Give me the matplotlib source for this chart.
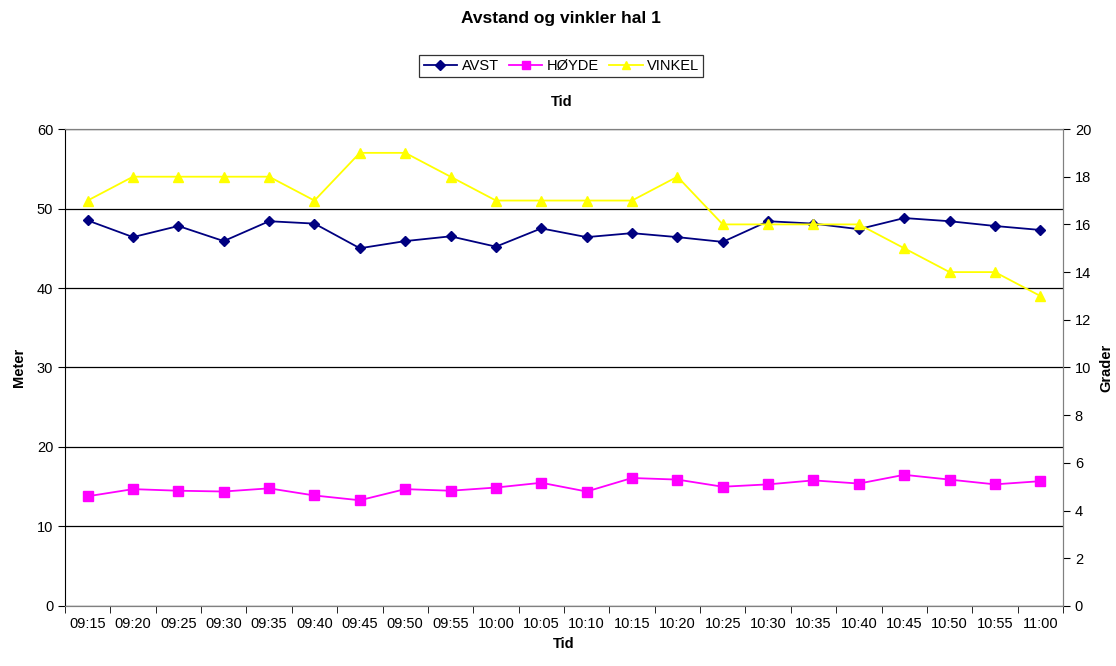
import numpy as np
import matplotlib
matplotlib.use("Agg")
import matplotlib.pyplot as plt

plt.rcParams['font.family'] = ['Liberation Sans', 'DejaVu Sans']

times = ['09:15', '09:20', '09:25', '09:30', '09:35', '09:40', '09:45', '09:50',
         '09:55', '10:00', '10:05', '10:10', '10:15', '10:20', '10:25', '10:30',
         '10:35', '10:40', '10:45', '10:50', '10:55', '11:00']
avst = [48.5, 46.4, 47.8, 45.9, 48.4, 48.1, 45.0, 45.9, 46.5, 45.2, 47.5,
        46.4, 46.9, 46.4, 45.8, 48.4, 48.1, 47.4, 48.8, 48.4, 47.8, 47.3]
hoyde = [13.8, 14.7, 14.5, 14.4, 14.8, 13.9, 13.3, 14.7, 14.5, 14.9, 15.5,
         14.4, 16.1, 15.9, 15.0, 15.3, 15.8, 15.4, 16.5, 15.9, 15.3, 15.7]
vinkel = [17, 18, 18, 18, 18, 17, 19, 19, 18, 17, 17, 17, 17, 18, 16, 16,
          16, 16, 15, 14, 14, 13]

fig = plt.figure(figsize=(11.16, 6.66), dpi=100)
ax = fig.add_axes([0.0582, 0.0901, 0.8943, 0.7162])
ax2 = ax.twinx()

x = np.arange(len(times))
l1, = ax.plot(x, avst, color='#000080', marker='D', markersize=5.5, lw=1.3, label='AVST')
l2, = ax.plot(x, hoyde, color='#FF00FF', marker='s', markersize=6.5, lw=1.3, label='HØYDE')
l3, = ax2.plot(x, vinkel, color='#FFFF00', marker='^', markersize=7, lw=1.3, label='VINKEL')

ax.set_xlim(-0.5, len(times) - 0.5)
ax.set_ylim(0, 60)
ax2.set_ylim(0, 20)
ax.set_yticks(np.arange(0, 61, 10))
ax2.set_yticks(np.arange(0, 21, 2))

# category labels at centers, ticks at boundaries
ax.set_xticks(x)
ax.set_xticklabels(times)
ax.tick_params(axis='x', length=0, labelsize=10.5, pad=8)
ax.set_xticks(np.arange(-0.5, len(times), 1), minor=True)
ax.tick_params(axis='x', which='minor', length=5, direction='out', color='black')
ax.tick_params(axis='y', labelsize=10.5, length=5, direction='out')
ax2.tick_params(axis='y', labelsize=10.5, length=5, direction='out')

ax.yaxis.grid(True, color='black', lw=0.9)
ax.set_axisbelow(True)
for sp in ['top', 'bottom', 'right']:
    ax.spines[sp].set_color('#808080')
    ax2.spines[sp].set_color('#808080')
ax2.spines['left'].set_visible(False)
ax.spines['left'].set_color('black')

ax.set_ylabel('Meter', fontsize=10.5, fontweight='bold', labelpad=8)
ax2.set_ylabel('Grader', fontsize=10.5, fontweight='bold', labelpad=6)
ax.set_xlabel('Tid', fontsize=10.5, fontweight='bold', labelpad=4)

fig.text(0.503, 0.972, 'Avstand og vinkler hal 1', ha='center', va='center',
         fontsize=12.5, fontweight='bold')
fig.text(0.503, 0.847, 'Tid', ha='center', va='center', fontsize=10.5, fontweight='bold')

leg = fig.legend([l1, l2, l3], ['AVST', 'HØYDE', 'VINKEL'], loc='center',
                 bbox_to_anchor=(0.503, 0.901), ncol=3, fontsize=10.5, frameon=True,
                 fancybox=False, edgecolor='black', handlelength=2.3, handletextpad=0.3,
                 columnspacing=0.7, borderpad=0.3, markerscale=0.85)
leg.get_frame().set_linewidth(0.9)

fig.savefig('out.png', dpi=100)
